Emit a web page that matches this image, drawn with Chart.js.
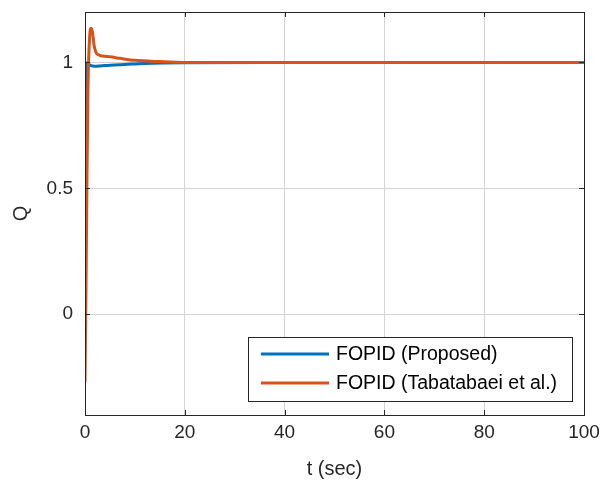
<!DOCTYPE html>
<html>
<head>
<meta charset="utf-8">
<script src="https://cdn.jsdelivr.net/npm/chart.js@4"></script>
<style>
  html, body { margin: 0; padding: 0; background: #fff; }
  #wrap { width: 600px; height: 485px; position: relative; }
</style>
</head>
<body>
<div id="wrap"><canvas id="qChart"></canvas></div>
<script>
// Step response values
const tProposed = [0, 0.15, 0.3, 0.5, 0.8, 1.2, 2, 3, 5, 8, 12, 20, 40, 60, 80, 100];
const qProposed = [0, 0.6, 0.95, 1.0, 0.992, 0.987, 0.985, 0.986, 0.989, 0.992, 0.996, 0.999, 1, 1, 1, 1];

const tTaba = [0, 0.2, 0.4, 0.6, 0.9, 1.2, 1.5, 1.8, 2.2, 2.7, 3.5, 5, 7, 10, 15, 20, 30, 100];
const qTaba = [-0.27, 0.1, 0.55, 0.9, 1.09, 1.135, 1.12, 1.07, 1.04, 1.03, 1.025, 1.022, 1.016, 1.008, 1.003, 1.0, 1.0, 1.0];

const xTicks = [0, 20, 40, 60, 80, 100];
const yTicks = [0, 0.5, 1];
const seriesLabels = ['FOPID (Proposed)', 'FOPID (Tabatabaei et al.)'];
const seriesColors = ['#0072BD', '#D95319'];

const FONT = '"Liberation Sans", Arial, sans-serif';

const toPoints = (xs, ys) => xs.map((x, i) => ({ x: x, y: ys[i] }));

// Box frame, inward ticks and legend drawn over the plot
const framePlugin = {
    id: 'frame',
    afterDraw(chart) {
        const { ctx, chartArea: a, scales } = chart;
        ctx.save();
        ctx.strokeStyle = '#262626';
        ctx.lineWidth = 1;
        ctx.strokeRect(a.left + 0.5, a.top + 0.5, a.right - a.left, a.bottom - a.top);

        // ticks pointing into the axes
        ctx.beginPath();
        xTicks.forEach(v => {
            const px = Math.round(scales.x.getPixelForValue(v)) + 0.5;
            ctx.moveTo(px, a.bottom); ctx.lineTo(px, a.bottom - 5);
            ctx.moveTo(px, a.top); ctx.lineTo(px, a.top + 5);
        });
        yTicks.forEach(v => {
            const py = Math.round(scales.y.getPixelForValue(v)) + 0.5;
            ctx.moveTo(a.left, py); ctx.lineTo(a.left + 5, py);
            ctx.moveTo(a.right, py); ctx.lineTo(a.right - 5, py);
        });
        ctx.stroke();

        // legend
        const lx = 248, ly = 337, lw = 324, lh = 64;
        ctx.fillStyle = '#fff';
        ctx.fillRect(lx, ly, lw, lh);
        ctx.strokeStyle = '#262626';
        ctx.strokeRect(lx + 0.5, ly + 0.5, lw, lh);
        ctx.font = '19.5px ' + FONT;
        ctx.textBaseline = 'middle';
        ctx.fillStyle = '#000';
        chart.data.datasets.forEach((ds, i) => {
            const y = ly + 17 + i * 29;
            ctx.strokeStyle = ds.borderColor;
            ctx.lineWidth = 3;
            ctx.beginPath();
            ctx.moveTo(lx + 13, y); ctx.lineTo(lx + 81, y);
            ctx.stroke();
            ctx.fillText(ds.label, lx + 88, y + 1);
        });
        ctx.restore();
    }
};

new Chart(document.getElementById('qChart'), {
    type: 'line',
    data: {
        datasets: [
            { label: seriesLabels[0], data: toPoints(tProposed, qProposed), order: 2 },
            { label: seriesLabels[1], data: toPoints(tTaba, qTaba), order: 1 }
        ].map((d, i) => Object.assign(d, {
            borderColor: seriesColors[i],
            backgroundColor: seriesColors[i],
            borderWidth: 3,
            pointRadius: 0,
            tension: 0.3,
            cubicInterpolationMode: 'monotone',
            fill: false
        }))
    },
    options: {
        responsive: true,
        maintainAspectRatio: false,
        animation: false,
        layout: { padding: { top: 12, right: 16, left: 0, bottom: 0 } },
        plugins: {
            legend: { display: false },
            tooltip: { enabled: false }
        },
        scales: {
            x: {
                type: 'linear',
                min: 0,
                max: 100,
                afterBuildTicks: axis => { axis.ticks = xTicks.map(v => ({ value: v })); },
                afterFit: axis => { axis.height = 70; axis.paddingLeft = 0; axis.paddingRight = 0; },
                ticks: { color: '#262626', font: { family: FONT, size: 19 }, padding: 6, maxRotation: 0 },
                grid: { color: '#d4d4d4', drawTicks: false },
                border: { color: '#262626' },
                title: { display: true, text: 't (sec)', color: '#262626', font: { family: FONT, size: 20 }, padding: { top: 1 } }
            },
            y: {
                min: -0.4,
                max: 1.2,
                afterBuildTicks: axis => { axis.ticks = yTicks.map(v => ({ value: v })); },
                afterFit: axis => { axis.width = 85; axis.paddingTop = 0; axis.paddingBottom = 0; },
                ticks: { color: '#262626', font: { family: FONT, size: 19 }, padding: 12, callback: v => String(v) },
                grid: { color: '#d4d4d4', drawTicks: false },
                border: { color: '#262626' },
                title: { display: true, text: 'Q', color: '#262626', font: { family: FONT, size: 20 }, padding: { top: 9, bottom: 0 } }
            }
        }
    },
    plugins: [framePlugin]
});
</script>
</body>
</html>
